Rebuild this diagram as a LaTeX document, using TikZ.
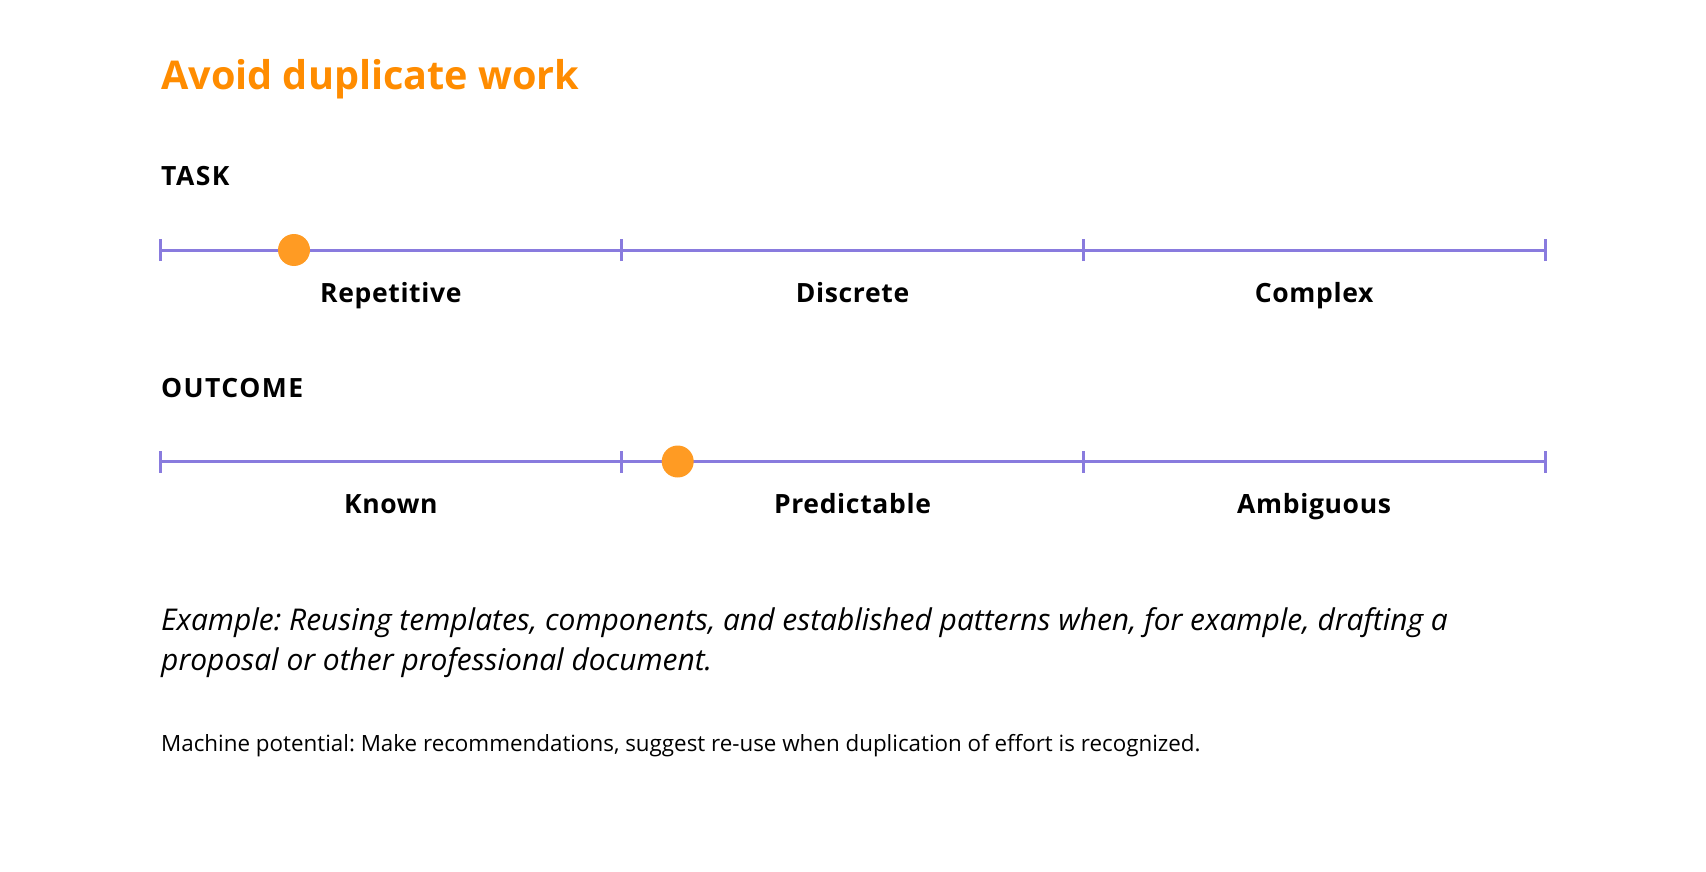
\documentclass[tikz,border=0pt]{standalone}
\usepackage{fontspec}
\setmainfont{Open Sans}
\frenchspacing
\definecolor{titleorange}{RGB}{255,140,0}
\definecolor{dotorange}{RGB}{255,155,35}
\definecolor{scalepurple}{RGB}{137,123,222}
\tikzset{
  titletext/.style={anchor=base west, inner sep=0pt, text=titleorange, font=\fontsize{39.6}{46}\selectfont\bfseries},
  headtext/.style={anchor=base west, inner sep=0pt, font=\fontsize{26.5}{32}\selectfont\bfseries\addfontfeature{LetterSpace=5.5}},
  labeltext/.style={anchor=base, inner sep=0pt, font=\fontsize{26.5}{32}\selectfont\bfseries\addfontfeature{LetterSpace=2.5}},
  exampletext/.style={anchor=base west, inner sep=0pt, font=\fontsize{29.95}{40}\selectfont\itshape},
  notetext/.style={anchor=base west, inner sep=0pt, font=\fontsize{22.37}{28}\selectfont},
  scaleline/.style={draw=scalepurple, line width=3pt},
  tickmark/.style={draw=scalepurple, line width=3pt},
  marker/.style={circle, fill=dotorange, draw=none, minimum size=32pt, inner sep=0pt}
}
\begin{document}
\begin{tikzpicture}[x=1pt,y=-1pt]
\useasboundingbox (0,0) rectangle (1706,872);
\node[titletext] (title) at (161,90) {Avoid duplicate work};
% Task scale
\node[headtext] (task) at (161,185.7) {TASK};
\foreach \i/\x in {0/160,1/621.7,2/1083.3,3/1545}{
  \coordinate (a\i) at (\x,250);
  \coordinate (b\i) at (\x,461.5);
}
\draw[scaleline] (a0) -- (a1) -- (a2) -- (a3);
\foreach \i in {0,1,2,3}{
  \draw[tickmark] ([yshift=-11pt]a\i) -- ([yshift=11pt]a\i);
}
\node[marker] (dot1) at (294,250) {};
\node[labeltext] (rep) at (390.85,302) {Repetitive};
\node[labeltext] (dis) at (852.5,302) {Discrete};
\node[labeltext] (com) at (1314.15,302) {Complex};
% Outcome scale
\node[headtext] (outcome) at (161,397.5) {OUTCOME};
\draw[scaleline] (b0) -- (b1) -- (b2) -- (b3);
\foreach \i in {0,1,2,3}{
  \draw[tickmark] ([yshift=-11pt]b\i) -- ([yshift=11pt]b\i);
}
\node[marker] (dot2) at (677.7,461.5) {};
\node[labeltext] (kno) at (390.85,513.7) {Known};
\node[labeltext] (pre) at (852.5,513.7) {Predictable};
\node[labeltext] (amb) at (1314.15,513.7) {Ambiguous};
% Texts
\node[exampletext] (ex1) at (161,630.7) {Example: Reusing templates, components, and established patterns when, for example, drafting a};
\node[exampletext] (ex2) at (161,670.5) {proposal or other professional document.};
\node[notetext] (note) at (161,751) {Machine potential: Make recommendations, suggest re-use when duplication of effort is recognized.};
\end{tikzpicture}
\end{document}
